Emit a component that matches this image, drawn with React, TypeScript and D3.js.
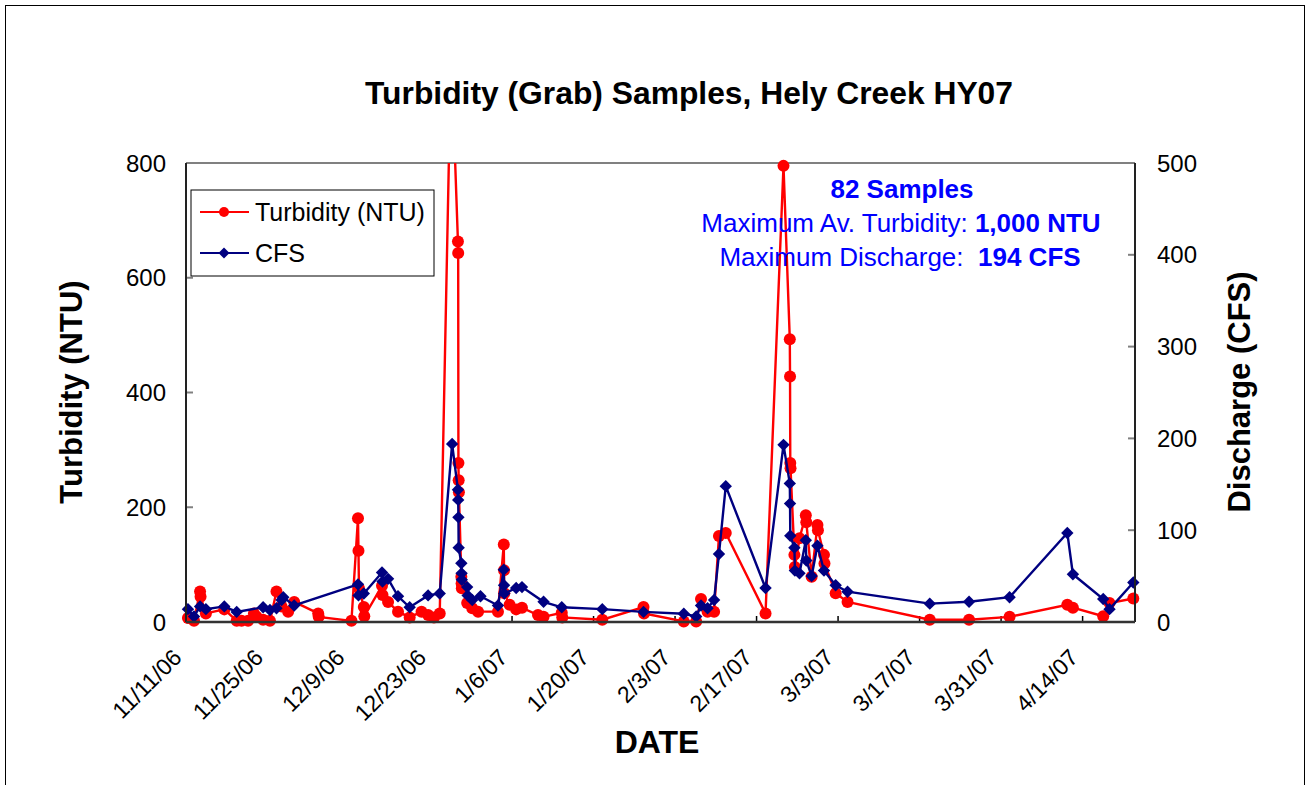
import React from 'react';
import * as d3 from 'd3';

// grab samples
const turbTimes = [
  '11/11/06 08:00', '11/12/06 09:00', '11/13/06 10:00', '11/13/06 12:00', '11/14/06 10:00',
  '11/17/06 14:00', '11/19/06 17:00', '11/20/06 13:00', '11/21/06 16:00', '11/22/06 16:00',
  '11/23/06 03:00', '11/24/06 06:00', '11/25/06 10:00', '11/26/06 13:00', '11/27/06 10:00',
  '11/28/06 13:00', '11/29/06 14:00', '12/3/06 17:00', '12/3/06 19:00', '12/9/06 10:00',
  '12/10/06 13:00', '12/10/06 15:00', '12/10/06 17:00', '12/11/06 13:00', '12/11/06 15:00',
  '12/14/06 16:00', '12/14/06 18:00', '12/15/06 17:00', '12/17/06 10:00', '12/19/06 10:00',
  '12/21/06 11:00', '12/22/06 14:00', '12/23/06 14:00', '12/24/06 14:00', '12/26/06 13:00',
  '12/27/06 17:00', '12/27/06 18:00', '12/27/06 19:00', '12/27/06 20:00', '12/27/06 21:00',
  '12/28/06 07:00', '12/28/06 08:00', '12/28/06 09:00', '12/29/06 07:00', '12/30/06 04:00',
  '12/31/06 04:00', '1/3/07 14:00', '1/4/07 14:00', '1/4/07 15:00', '1/4/07 16:00',
  '1/5/07 14:00', '1/6/07 17:00', '1/7/07 17:00', '1/10/07 11:00', '1/11/07 10:00',
  '1/14/07 13:00', '1/14/07 15:00', '1/21/07 12:00', '1/28/07 14:00', '1/28/07 16:00',
  '2/4/07 12:00', '2/6/07 15:00', '2/7/07 11:00', '2/8/07 14:00', '2/9/07 17:00',
  '2/10/07 13:00', '2/11/07 17:00', '2/18/07 13:00', '2/21/07 15:00', '2/22/07 17:00',
  '2/22/07 18:00', '2/22/07 19:00', '2/22/07 20:00', '2/23/07 12:00', '2/23/07 14:00',
  '2/24/07 09:00', '2/25/07 11:00', '2/25/07 13:00', '2/26/07 11:00', '2/27/07 11:00',
  '2/27/07 13:00', '2/28/07 14:00', '2/28/07 16:00', '3/2/07 14:00', '3/4/07 15:00',
  '3/18/07 18:00', '3/25/07 12:00', '4/1/07 11:00', '4/11/07 09:00', '4/12/07 08:00',
  '4/17/07 13:00', '4/18/07 15:00', '4/22/07 17:00',
];
const turbNTU = [
  7, 2, 53, 44, 15,
  22, 2, 2, 2, 15,
  9, 4, 2, 53, 27,
  18, 35, 15, 9, 2,
  181, 124, 59, 26, 10,
  63, 47, 35, 18, 8,
  18, 12, 8, 15, 1000,
  663, 643, 277, 247, 226,
  79, 67, 59, 33, 24,
  18, 18, 135, 90, 50,
  30, 22, 25, 12, 9,
  16, 8, 4, 26, 15,
  1, 1, 40, 18, 18,
  150, 155, 15, 795, 493,
  428, 277, 268, 117, 96,
  146, 186, 174, 79, 169,
  160, 117, 102, 50, 35,
  4, 4, 9, 30, 25,
  10, 33, 41,
];

const cfsTimes = [
  '11/11/06 08:00', '11/12/06 09:00', '11/13/06 10:00', '11/14/06 10:00', '11/17/06 14:00',
  '11/19/06 17:00', '11/24/06 06:00', '11/25/06 10:00', '11/26/06 13:00', '11/27/06 10:00',
  '11/27/06 17:00', '11/29/06 14:00', '12/10/06 13:00', '12/10/06 15:00', '12/11/06 13:00',
  '12/14/06 16:00', '12/14/06 18:00', '12/15/06 17:00', '12/17/06 10:00', '12/19/06 10:00',
  '12/22/06 14:00', '12/24/06 14:00', '12/26/06 17:00', '12/27/06 17:00', '12/27/06 18:00',
  '12/27/06 19:00', '12/27/06 20:00', '12/28/06 07:00', '12/28/06 08:00', '12/28/06 09:00',
  '12/29/06 07:00', '12/29/06 09:00', '12/30/06 04:00', '12/31/06 14:00', '1/3/07 14:00',
  '1/4/07 14:00', '1/4/07 15:00', '1/4/07 16:00', '1/6/07 17:00', '1/7/07 17:00',
  '1/11/07 10:00', '1/14/07 13:00', '1/21/07 12:00', '1/28/07 14:00', '2/4/07 12:00',
  '2/6/07 15:00', '2/7/07 11:00', '2/8/07 14:00', '2/9/07 17:00', '2/10/07 13:00',
  '2/11/07 17:00', '2/18/07 13:00', '2/21/07 15:00', '2/22/07 17:00', '2/22/07 18:00',
  '2/22/07 19:00', '2/23/07 12:00', '2/23/07 14:00', '2/24/07 09:00', '2/25/07 11:00',
  '2/25/07 13:00', '2/26/07 11:00', '2/27/07 11:00', '2/28/07 14:00', '3/2/07 14:00',
  '3/4/07 15:00', '3/18/07 18:00', '3/25/07 12:00', '4/1/07 11:00', '4/11/07 09:00',
  '4/12/07 08:00', '4/17/07 13:00', '4/18/07 15:00', '4/22/07 17:00',
];
const cfsValues = [
  14, 6, 17, 14, 17,
  11, 16, 13, 15, 24,
  27, 18, 41, 29, 31,
  54, 44, 47, 28, 16,
  29, 31, 194, 144, 133,
  114, 81, 64, 53, 46,
  38, 29, 24, 28, 18,
  57, 40, 31, 37, 38,
  22, 16, 14, 11, 9,
  6, 18, 15, 24, 74,
  148, 37, 193, 151, 129,
  94, 81, 56, 53, 89,
  67, 50, 83, 56, 40,
  33, 20, 22, 27, 97,
  52, 25, 14, 43,
];

const dateTicks = [
  '11/11/06', '11/25/06', '12/9/06', '12/23/06', '1/6/07', '1/20/07',
  '2/3/07', '2/17/07', '3/3/07', '3/17/07', '3/31/07', '4/14/07',
];
const ntuTicks = [0, 200, 400, 600, 800];
const cfsTicks = [0, 100, 200, 300, 400, 500];

const W = 1310;
const H = 785;
const plot = { left: 186, right: 1135, top: 163, bottom: 622 };
const RED = '#FF0000';
const NAVY = '#000080';
const BLUE = '#0000FF';
const FONT = 'Arial, "Liberation Sans", sans-serif';

const parseTime = d3.utcParse('%m/%d/%y %H:%M');
const parseDay = d3.utcParse('%m/%d/%y');

const diamond = (x: number, y: number, r: number) =>
  `M${x},${y - r}L${x + r},${y}L${x},${y + r}L${x - r},${y}Z`;

export default function App() {
  const x = d3.scaleUtc()
    .domain([parseDay('11/11/06')!, parseDay('4/23/07')!])
    .range([plot.left, plot.right]);
  const yL = d3.scaleLinear().domain([0, 800]).range([plot.bottom, plot.top]);
  const yR = d3.scaleLinear().domain([0, 500]).range([plot.bottom, plot.top]);

  const turb = turbTimes.map((t, i) => ({ t: parseTime(t)!, v: turbNTU[i] }));
  const cfs = cfsTimes.map((t, i) => ({ t: parseTime(t)!, v: cfsValues[i] }));

  const turbLine = d3.line<{ t: Date; v: number }>().x(d => x(d.t)).y(d => yL(d.v));
  const cfsLine = d3.line<{ t: Date; v: number }>().x(d => x(d.t)).y(d => yR(d.v));

  return (
    <svg width={W} height={H} style={{ position: 'absolute', left: 0, top: 0, background: '#fff' }}
      fontFamily={FONT}>
      <defs>
        <clipPath id="plotClip">
          <rect x={plot.left - 6} y={plot.top - 4} width={plot.right - plot.left + 12}
            height={plot.bottom - plot.top + 10} />
        </clipPath>
        <clipPath id="lineClip">
          <rect x={plot.left} y={plot.top} width={plot.right - plot.left} height={plot.bottom - plot.top} />
        </clipPath>
      </defs>
      <rect x={5.5} y={5.5} width={W - 11} height={H + 20} fill="none" stroke="#000" strokeWidth={1} />

      <text x={689} y={104} textAnchor="middle" fontSize={31.8} fontWeight="bold">
        Turbidity (Grab) Samples, Hely Creek HY07
      </text>

      {/* plot frame */}
      <line x1={plot.left} x2={plot.right} y1={plot.top} y2={plot.top} stroke="#808080" strokeWidth={2} />

      {/* left axis */}
      {ntuTicks.map(v => (
        <g key={'l' + v}>
          <line x1={plot.left} x2={plot.left + 7} y1={yL(v)} y2={yL(v)} stroke="#808080" strokeWidth={2} />
          <text x={166} y={yL(v)} textAnchor="end" dominantBaseline="central" fontSize={24}>{v}</text>
        </g>
      ))}
      {/* right axis */}
      {cfsTicks.map(v => (
        <g key={'r' + v}>
          <line x1={plot.right - 7} x2={plot.right} y1={yR(v)} y2={yR(v)} stroke="#808080" strokeWidth={2} />
          <text x={1157} y={yR(v)} textAnchor="start" dominantBaseline="central" fontSize={24}>{v}</text>
        </g>
      ))}
      {/* x axis ticks and labels */}
      {dateTicks.map(d => {
        const tx = x(parseDay(d)!);
        return (
          <g key={d}>
            <line x1={tx} x2={tx} y1={plot.bottom} y2={plot.bottom - 6} stroke="#000" strokeWidth={1.5} />
            <text transform={`translate(${tx - 3},${659}) rotate(-45)`} textAnchor="end" fontSize={23}>{d}</text>
          </g>
        );
      })}

      {/* series */}
      <g clipPath="url(#lineClip)">
        <path d={turbLine(turb)!} fill="none" stroke={RED} strokeWidth={2.4} />
      </g>
      <g clipPath="url(#plotClip)">
        {turb.map((d, i) => (
          <circle key={'t' + i} cx={x(d.t)} cy={yL(d.v)} r={6} fill={RED} />
        ))}
      </g>
      <g clipPath="url(#lineClip)">
        <path d={cfsLine(cfs)!} fill="none" stroke={NAVY} strokeWidth={2.4} />
      </g>
      <g clipPath="url(#plotClip)">
        {cfs.map((d, i) => (
          <path key={'c' + i} d={diamond(x(d.t), yR(d.v), 6.2)} fill={NAVY} />
        ))}
      </g>

      <line x1={plot.left} x2={plot.left} y1={plot.top} y2={plot.bottom} stroke="#222" strokeWidth={2} />
      <line x1={plot.right} x2={plot.right} y1={plot.top} y2={plot.bottom} stroke="#222" strokeWidth={2} />
      <line x1={plot.left} x2={plot.right} y1={plot.bottom} y2={plot.bottom} stroke="#333" strokeWidth={2.5} />

      {/* legend */}
      <rect x={191} y={190} width={243} height={86} fill="#fff" stroke="#000" strokeWidth={1} />
      <line x1={200} x2={249} y1={212} y2={212} stroke={RED} strokeWidth={2} />
      <circle cx={224} cy={212} r={5} fill={RED} />
      <text x={255} y={212} dominantBaseline="central" fontSize={25}>Turbidity (NTU)</text>
      <line x1={200} x2={249} y1={253} y2={253} stroke={NAVY} strokeWidth={2} />
      <path d={diamond(224, 253, 5.5)} fill={NAVY} />
      <text x={255} y={253} dominantBaseline="central" fontSize={25}>CFS</text>

      {/* annotation */}
      <text x={902} y={189} textAnchor="middle" dominantBaseline="central" fontSize={26}
        fontWeight="bold" fill={BLUE}>82 Samples</text>
      <text x={901} y={223} textAnchor="middle" dominantBaseline="central" fontSize={26} fill={BLUE}>
        Maximum Av. Turbidity: <tspan fontWeight="bold">1,000 NTU</tspan>
      </text>
      <text x={900} y={257} textAnchor="middle" dominantBaseline="central" fontSize={26} fill={BLUE}
        xmlSpace="preserve">
        {'Maximum Discharge:  '}<tspan fontWeight="bold">194 CFS</tspan>
      </text>

      {/* axis titles */}
      <text transform={`translate(82,392) rotate(-90)`} textAnchor="middle" fontSize={31} fontWeight="bold">
        Turbidity (NTU)
      </text>
      <text transform={`translate(1250,392) rotate(-90)`} textAnchor="middle" fontSize={31} fontWeight="bold">
        Discharge (CFS)
      </text>
      <text x={657} y={753} textAnchor="middle" fontSize={32} fontWeight="bold">DATE</text>
    </svg>
  );
}
